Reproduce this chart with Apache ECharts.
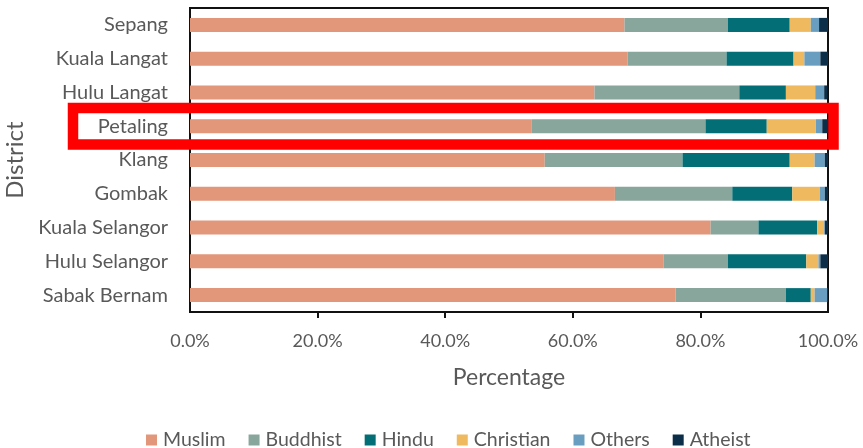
<!DOCTYPE html>
<html>
<head>
<meta charset="utf-8">
<script src="https://cdn.jsdelivr.net/npm/echarts@6/dist/echarts.min.js"></script>
<style>
  html, body { margin: 0; padding: 0; background: #fff; }
  #chart { width: 863px; height: 448px; }
</style>
</head>
<body>
<div id="chart"></div>
<script>
// Districts, top to bottom
const districts = ['Sepang', 'Kuala Langat', 'Hulu Langat', 'Petaling', 'Klang',
  'Gombak', 'Kuala Selangor', 'Hulu Selangor', 'Sabak Bernam'];

// Share of population by religion (%), same order as districts
const muslim    = [68.1, 68.6, 63.4, 53.5, 55.6, 66.6, 81.6, 74.2, 76.1];
const buddhist  = [16.2, 15.5, 22.7, 27.3, 21.6, 18.4,  7.5, 10.1, 17.3];
const hindu     = [ 9.7, 10.5,  7.3,  9.6, 16.8,  9.4,  9.2, 12.3,  3.9];
const christian = [ 3.3,  1.7,  4.6,  7.7,  3.9,  4.3,  1.1,  1.9,  0.6];
const others    = [ 1.3,  2.5,  1.4,  1.0,  1.6,  0.8,  0.1,  0.3,  2.0];
const atheist   = [ 1.4,  1.2,  0.5,  0.9,  0.5,  0.5,  0.5,  1.2,  0.1];

const seriesNames = ['Muslim', 'Buddhist', 'Hindu', 'Christian', 'Others', 'Atheist'];
const seriesData = [muslim, buddhist, hindu, christian, others, atheist];
const colors = ['#E2967A', '#88A69C', '#036E76', '#EFB960', '#6A9EC0', '#0C2E48'];

const xTicks = [0, 20, 40, 60, 80, 100];
const highlighted = 'Petaling';

const font = 'Lato, "Open Sans", sans-serif';
const textColor = '#595959';

const chart = echarts.init(document.getElementById('chart'), null, { renderer: 'canvas' });

const gridLeft = 190, gridRight = 35, gridTop = 8, gridBottom = 136;

chart.setOption({
  animation: false,
  color: colors,
  textStyle: { fontFamily: font },
  grid: {
    left: gridLeft, right: gridRight, top: gridTop, bottom: gridBottom,
    show: true, borderColor: '#111', borderWidth: 2,
    containLabel: false, outerBoundsMode: 'none'
  },
  xAxis: {
    type: 'value', min: 0, max: 100, interval: 20,
    name: 'Percentage', nameLocation: 'middle', nameGap: 54,
    nameTextStyle: { fontSize: 23, color: textColor, fontFamily: font },
    axisLine: { show: true, lineStyle: { color: '#111', width: 2 } },
    axisTick: { show: true, length: 6, customValues: xTicks.slice(1, -1),
                lineStyle: { color: '#111', width: 2 } },
    axisLabel: {
      customValues: xTicks,
      formatter: v => v.toFixed(1) + '%',
      fontSize: 18, color: textColor, margin: 20, fontFamily: font
    },
    splitLine: { show: false }
  },
  yAxis: {
    type: 'category', data: districts, inverse: true,
    name: 'District', nameLocation: 'middle', nameGap: 152,
    nameTextStyle: { fontSize: 24, color: textColor, fontFamily: font },
    axisLine: { show: true, lineStyle: { color: '#111', width: 2 } },
    axisTick: { show: false },
    axisLabel: { fontSize: 20, color: textColor, margin: 22, fontFamily: font }
  },
  legend: {
    data: seriesNames, left: 141, top: 425,
    itemWidth: 11, itemHeight: 11, itemGap: 23,
    icon: 'rect',
    textStyle: { fontSize: 19.5, color: textColor, fontFamily: font, padding: [0, 0, 0, 1] }
  },
  series: seriesNames.map((name, i) => ({
    name, type: 'bar', stack: 'total', data: seriesData[i],
    barWidth: 14, itemStyle: { color: colors[i] }
  }))
});

// Red frame around the highlighted district row
const rowY = chart.convertToPixel({ yAxisIndex: 0 }, highlighted);
const plotRight = chart.convertToPixel({ xAxisIndex: 0 }, 100);
chart.setOption({
  graphic: [{
    type: 'rect', z: 100,
    shape: { x: 73, y: rowY - 18.2, width: plotRight + 5.5 - 73, height: 36.4 },
    style: { fill: 'none', stroke: '#FF0000', lineWidth: 10.5 }
  }]
});
</script>
</body>
</html>
